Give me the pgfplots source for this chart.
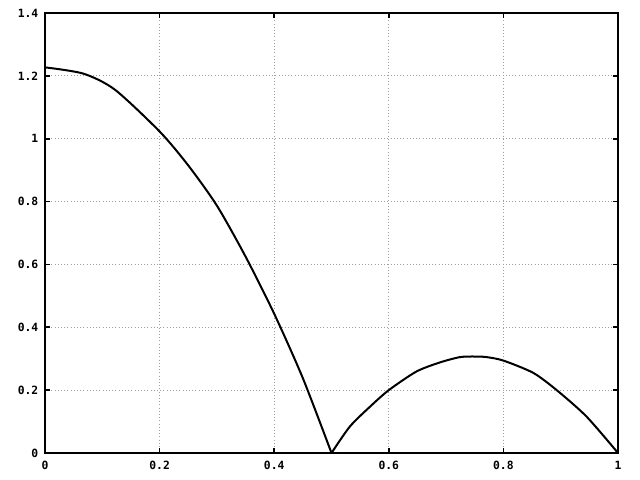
\documentclass[border=0pt]{standalone}
\usepackage{fontspec}
\setmainfont{DejaVu Sans Mono}
\usepackage{pgfplots}
\pgfplotsset{compat=1.18}
\begin{document}
\begin{tikzpicture}
\begin{axis}[
  scale only axis,
  width=429.75pt, height=330pt,
  xmin=0, xmax=1, ymin=0, ymax=1.4,
  xtick={0,0.2,0.4,0.6,0.8,1},
  ytick={0,0.2,0.4,0.6,0.8,1,1.2,1.4},
  xticklabels={0,0.2,0.4,0.6,0.8,1},
  yticklabels={0,0.2,0.4,0.6,0.8,1,1.2,1.4},
  tick align=inside,
  major tick length=3.5pt,
  tick style={black, line width=1.2pt},
  axis line style={line width=1.5pt},
  grid=major,
  major grid style={gray!75, dotted, line width=0.75pt},
  ticklabel style={font=\fontsize{8.5}{10}\selectfont\bfseries},
  xticklabel style={yshift=-2.5pt},
  yticklabel style={xshift=-1.5pt},
  /pgf/number format/assume math mode=true,
]
\addplot[black, line width=1.5pt, smooth, tension=0.45] coordinates {
(0,1.227) (0.067,1.207) (0.122,1.156) (0.2,1.023) (0.25,0.915)
(0.3,0.787) (0.35,0.625) (0.4,0.443) (0.45,0.238) (0.5,0)
};
\addplot[black, line width=1.5pt, smooth, tension=0.45] coordinates {
(0.5,0) (0.532,0.084) (0.567,0.147) (0.6,0.2) (0.648,0.259) (0.689,0.288)
(0.724,0.305) (0.75,0.307) (0.771,0.305) (0.8,0.294) (0.852,0.255) (0.893,0.2)
(0.945,0.116) (1.0,0)
};
\coordinate (sw) at (rel axis cs:0,0);
\coordinate (ne) at (rel axis cs:1,1);
\end{axis}
\pgfresetboundingbox
\path ([shift={(-33.75pt,-20.25pt)}]sw) rectangle ([shift={(16.5pt,9.75pt)}]ne);
\end{tikzpicture}
\end{document}
